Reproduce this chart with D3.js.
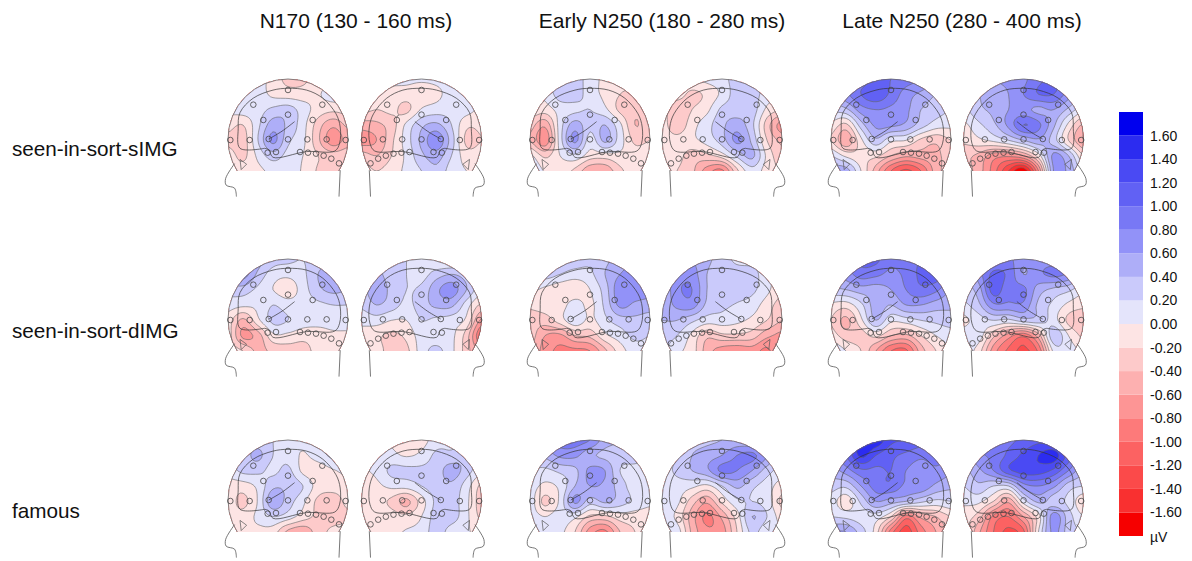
<!DOCTYPE html>
<html>
<head>
<meta charset="utf-8">
<script src="https://cdn.jsdelivr.net/npm/d3@7"></script>
<style>
  html, body { margin: 0; padding: 0; background: #fff; }
  svg { display: block; }
  text { font-family: "Liberation Sans", Arial, sans-serif; fill: #111; }
</style>
</head>
<body>
<div id="chart"></div>
<script>
// windows and conditions
const windowTitles = ["N170 (130 - 160 ms)", "Early N250 (180 - 280 ms)", "Late N250 (280 - 400 ms)"];
const conditions = ["seen-in-sort-sIMG", "seen-in-sort-dIMG", "famous"];

// colour bands, from -1.8 to 1.8 uV in 0.2 steps
const levels = d3.range(-16, 18, 2).map(d => d / 10);
const bandColors = ["#f60000", "#f93030", "#fb4a4a", "#fc6262", "#fd7a7a", "#fd9595", "#fdb0b0", "#fdcaca", "#fde4e4",
  "#e4e4fb", "#cacafb", "#aeaef8", "#9292f8", "#7878f5", "#6161f4", "#4a4af3", "#2c2cf0", "#0000ee"];
const legendTicks = d3.range(-16, 18, 2).map(d => d / 10).reverse();

// uV, 7 rows (top of scalp to cut) x 9 columns (left to right)
const n170SImgL = [
  [.1,.1,.1,-.1,-.25,-.25,-.1,-.1,-.1],
  [.1,.12,.1,-.05,-.1,-.1,-.02,.08,.1],
  [.05,.1,.12,.25,.3,.1,-.08,-.15,-.1],
  [-.12,-.2,.15,.5,.35,.08,-.3,-.55,-.35],
  [-.25,-.3,.2,.65,.25,.05,-.35,-.72,-.5],
  [-.1,-.25,.05,.3,.12,0,-.2,-.3,-.25],
  [-.1,-.12,-.05,.05,.05,-.02,-.22,-.22,-.2]];
const n170SImgR = [
  [.1,.1,.08,.05,.03,.05,.1,.1,.1],
  [.05,-.02,-.1,-.1,-.12,-.05,.08,.1,.1],
  [-.12,-.2,-.15,-.25,.02,.1,.12,.08,-.05],
  [-.5,-.45,-.3,.05,.35,.45,.2,-.15,-.15],
  [-.7,-.6,-.25,.1,.45,.75,.3,-.25,-.2],
  [-.3,-.4,-.2,.05,.35,.5,.2,-.1,-.1],
  [-.1,-.2,-.1,.05,.2,.35,.1,0,-.05]];
const earlySImgL = [
  [.2,.2,.3,.3,.1,-.05,-.1,-.1,-.1],
  [.05,.05,.3,.3,.1,-.05,-.2,-.25,-.15],
  [-.05,-.1,.08,.15,.2,.05,-.25,-.35,-.2],
  [-.3,-.55,.1,.5,.25,.4,.05,-.4,-.25],
  [-.4,-.75,.1,.65,.1,.45,.1,-.25,-.2],
  [.05,-.25,0,.15,-.1,-.1,-.05,-.1,-.05],
  [.2,-.02,-.1,-.25,-.55,-.55,-.25,-.1,-.1]];
const earlySImgR = [
  [.05,0,-.02,.05,.12,.3,.3,.2,.1],
  [-.05,-.1,-.25,-.15,.05,.3,.3,.1,.05],
  [-.1,-.35,-.2,-.05,.25,.3,.3,-.05,-.2],
  [-.1,-.35,-.08,.12,.35,.5,.25,-.3,-.7],
  [-.08,-.12,-.05,.08,.3,.65,.35,-.2,-.45],
  [-.1,-.12,-.3,-.25,-.1,.25,.45,-.05,-.35],
  [-.1,-.2,-.35,-.7,-.85,-.25,.12,-.1,-.2]];
const lateSImgL = [
  [.6,.75,.9,1,1,.9,.8,.7,.6],
  [.5,.75,1,1.15,.95,.7,.55,.4,.3],
  [.25,.35,.7,.8,.75,.65,.4,.3,.2],
  [-.05,-.25,.3,.65,.65,.55,.3,.1,.05],
  [-.2,-.55,-.05,.35,.05,0,-.25,-.35,-.2],
  [.2,-.05,-.15,-.15,-.4,-.55,-.5,-.45,-.3],
  [.5,.5,0,-.5,-1,-1.25,-1,-.5,-.3]];
const lateSImgR = [
  [.5,.55,.6,.65,.75,.95,1.05,.9,.7],
  [.2,.4,.5,.6,.8,1,1,.7,.4],
  [.15,.35,.45,.6,.65,.55,.6,.35,.05],
  [-.05,.15,.35,.65,1,.85,.45,-.05,-.45],
  [-.15,-.05,.05,.2,.4,.55,.3,-.2,-.6],
  [-.35,-.45,-.7,-.75,-.6,-.1,.65,.4,-.2],
  [-.3,-.5,-.9,-1.4,-1.75,-.8,.6,.55,.1]];
const n170DImgL = [
  [.8,.7,.5,.3,.25,.2,.3,.4,.4],
  [.6,.7,.35,.1,.05,.15,.4,.5,.45],
  [.3,.3,.15,0,-.12,.1,.35,.45,.4],
  [.1,.05,.05,.2,.1,.1,.15,.2,.2],
  [-.1,-.45,-.05,.25,.2,.1,.08,.1,.1],
  [-.1,-.65,-.5,-.05,-.05,-.12,-.1,-.05,-.05],
  [-.1,-.2,-.45,-.35,-.3,-.3,-.12,-.15,-.2]];
const n170DImgR = [
  [.4,.35,.3,.2,.1,-.02,-.05,.1,.1],
  [.4,.45,.3,.2,.12,.3,.4,.3,.1],
  [.35,.5,.35,.2,.25,.55,.7,.4,.05],
  [.25,.4,.3,.15,.3,.45,.45,.1,-.25],
  [.05,.1,0,0,.2,.15,.1,-.05,-.65],
  [-.05,-.15,-.25,-.15,.1,.1,.05,-.3,-1],
  [-.05,-.1,-.3,-.25,.1,.25,.05,-.3,-.7]];
const earlyDImgL = [
  [.4,.4,.4,.35,.25,.35,.5,.6,.7],
  [.2,.3,.2,.1,.15,.4,.6,.7,.7],
  [.05,-.05,-.15,-.15,0,.3,.75,.75,.7],
  [-.15,-.1,-.1,.1,-.05,.25,.65,.55,.5],
  [-.3,-.3,-.1,.15,-.05,.15,.3,.35,.3],
  [-.3,-.6,-.65,-.4,-.35,-.05,.1,.25,.2],
  [-.4,-.7,-.85,-.85,-.8,-.45,-.1,.1,.1]];
const earlyDImgR = [
  [.5,.55,.6,.45,.3,.15,.1,.1,.05],
  [.5,.7,.7,.4,.3,.3,.3,.05,-.05],
  [.4,.75,.8,.4,.3,.3,.25,.05,-.15],
  [.45,.65,.7,.35,.25,.18,.1,-.1,-.3],
  [.4,.4,.25,.1,.1,.05,-.05,-.2,-.4],
  [.3,.2,-.05,-.35,-.25,-.25,-.3,-.55,-.65],
  [.25,.05,-.1,-.5,-.7,-.75,-.7,-.85,-.5]];
const lateDImgL = [
  [.9,.85,1.05,1.05,.85,.9,1,.95,.85],
  [.6,.7,.9,.85,.75,.85,1.05,1.1,.85],
  [.35,.4,.5,.5,.6,.8,.95,.85,.6],
  [-.05,-.1,.15,.5,.4,.6,.6,.5,.45],
  [-.2,-.45,-.05,.4,.05,.1,.2,.25,.3],
  [-.1,-.3,-.3,-.15,-.4,-.45,-.2,0,.1],
  [.2,0,-.2,-.6,-1,-1.05,-.5,-.2,0]];
const lateDImgR = [
  [.6,.7,.8,.85,.65,.7,.7,.6,.4],
  [.35,.7,1.05,.95,.6,.75,.85,.75,.35],
  [.3,.5,1.1,.85,.85,.5,.35,.25,.05],
  [.15,.35,.75,.75,.75,.35,.15,-.05,-.15],
  [-.05,.1,.2,.15,.3,.3,.1,-.25,-.35],
  [.1,.1,-.35,-.7,-.95,-.5,.35,0,-.25],
  [.1,-.1,-.7,-1.05,-1.25,-.95,.05,.1,-.05]];
const n170FamousL = [
  [.3,.3,.3,.2,.1,.05,.2,.2,.2],
  [.2,.3,.45,.2,.12,-.02,.1,.25,.25],
  [.1,.25,.25,.15,.25,-.05,-.12,-.02,.05],
  [-.1,-.1,.05,.35,.35,.2,-.08,-.08,-.05],
  [-.1,-.25,.02,.55,.3,.05,-.25,-.35,-.12],
  [-.1,-.12,.05,.2,.1,-.1,-.25,-.3,-.25],
  [0,-.05,-.05,-.1,-.45,-.55,-.3,-.15,-.1]];
const n170FamousR = [
  [.05,.1,-.02,-.08,-.08,.1,.15,.1,.05],
  [.05,.08,.05,-.02,.05,.25,.25,.35,.1],
  [-.02,.05,.25,.25,.25,.3,.5,.3,.05],
  [-.15,-.05,.05,.08,.2,.3,.35,.1,-.25],
  [-.2,-.12,-.25,-.45,-.1,.25,.3,.05,-.3],
  [-.15,-.05,-.1,-.15,0,.3,.3,.05,-.25],
  [-.05,-.05,-.05,.02,.08,.3,.1,.02,-.05]];
const earlyFamousL = [
  [.7,.7,.9,.9,.8,.5,.4,.3,.3],
  [.3,.45,.65,.65,.45,.35,.3,.3,.2],
  [.2,.15,.25,.35,.65,.6,.2,.12,.1],
  [.1,-.05,.05,.4,.6,.55,.3,.1,.1],
  [.1,-.25,.05,.65,.3,.45,.3,.15,.05],
  [.1,0,.1,.05,-.25,-.25,-.1,-.1,-.1],
  [.3,.1,.05,-.2,-.7,-.85,-.4,-.2,-.1]];
const earlyFamousR = [
  [.2,.3,.3,.35,.4,.45,.4,.3,.2],
  [.1,.2,.4,.5,.6,.8,.85,.6,.2],
  [.1,.25,.4,.55,.85,.8,.6,.3,.1],
  [.05,.1,.05,-.05,.2,.45,.25,.1,-.1],
  [.1,.05,-.3,-.55,-.15,.15,.2,.1,-.25],
  [.1,-.05,-.5,-.85,-.55,-.1,.4,.2,-.1],
  [0,.1,-.45,-.75,-.7,-.2,.25,.05,.05]];
const lateFamousL = [
  [1,1.1,1.5,1.55,1.25,1.2,1.1,1,.9],
  [.8,1,1.45,1.2,1.05,.95,.85,.9,.8],
  [.5,.7,.95,.95,1,.8,.7,.75,.65],
  [.3,.25,.6,.9,.95,.75,.75,.55,.45],
  [.1,-.12,.25,.6,.5,.4,.25,.15,.2],
  [.2,.15,.1,.1,-.2,-.9,-.55,-.4,-.2],
  [.6,.6,.3,-.1,-.9,-1.3,-.9,-.6,-.35]];
const lateFamousR = [
  [.7,.85,.9,.95,1.05,1.15,1.1,.9,.8],
  [.5,.75,.85,1.05,1.25,1.4,1.5,1.1,.65],
  [.35,.55,.8,1.15,1.3,1.3,1.15,.8,.45],
  [.2,.35,.2,.2,.7,.8,.65,.3,.2],
  [.05,.05,-.2,-.55,.1,.45,.3,.15,-.15],
  [-.1,-.3,-.85,-1,-.6,-.1,.7,.3,0],
  [-.1,-.55,-1,-1.25,-1.05,0,.65,.3,.2]];

const mapGrid = [
  [[n170SImgL, n170SImgR], [earlySImgL, earlySImgR], [lateSImgL, lateSImgR]],
  [[n170DImgL, n170DImgR], [earlyDImgL, earlyDImgR], [lateDImgL, lateDImgR]],
  [[n170FamousL, n170FamousR], [earlyFamousL, earlyFamousR], [lateFamousL, lateFamousR]]
];

// electrodes in head units (1 = scalp radius), left-side view; right view is mirrored
const electrodeX = [0,-.578,.572,0,-.411,.411,-.961,-.639,-.322,0,.322,.644,.961,-.339,-.2,.2,.333,.467,.594,.722,.85];
const electrodeY = [-.817,-.572,-.572,-.406,-.317,-.317,.017,.017,0,.006,.006,.006,.017,.228,.217,.217,.228,.244,.278,.328,.406];

// head drawing, same units
const brainOutline = [[-.39,.155],[-.8,.155],[-.83,-.17],[-.8,-.44],[-.58,-.68],[-.25,-.815],[0,-.845],[.31,-.815],[.58,-.68],[.8,-.42],[.87,-.2],[.86,.07],[.78,.2],[.31,.21],[-.25,.305],[-.32,.18],[-.39,.155]];
const sulcus = [[-.32,0],[-.1,-.13],[.11,-.29]];
const earMark = [[-.8,.34],[-.69,.42],[-.78,.51],[-.8,.34]];
const neckFront = [[-.89,.41],[-1.04,.66],[-1.03,.77],[-.89,.82],[-.86,.96]];
const neckBack = [[.87,.52],[.85,.96]];

const width = 1192, height = 561;
const columnCenters = [[288, 421.5], [590, 722], [891, 1023.5]];
const rowCenters = [139, 319, 500];
const titleX = [356, 662, 962];
const labelY = [156, 338, 518];
const radius = 60, cutY = 0.533, upsample = 6;

const svg = d3.select("#chart").append("svg")
  .attr("width", width).attr("height", height)
  .attr("viewBox", `0 0 ${width} ${height}`);

const bandOf = d3.scaleThreshold().domain(levels).range(bandColors);

// Catmull-Rom resampling of a coarse value grid so the contours come out round
function resample(grid, k) {
  const ny = grid.length, nx = grid[0].length;
  const at = (i, j) => grid[Math.max(0, Math.min(ny - 1, j))][Math.max(0, Math.min(nx - 1, i))];
  const cr = (a, b, c, d, t) => 0.5 * (2 * b + (c - a) * t + (2 * a - 5 * b + 4 * c - d) * t * t + (3 * b - a - 3 * c + d) * t * t * t);
  const w = (nx - 1) * k + 1, h = (ny - 1) * k + 1, out = new Array(w * h);
  for (let y = 0; y < h; y++) {
    const j = Math.floor(y / k), v = y / k - j;
    for (let x = 0; x < w; x++) {
      const i = Math.floor(x / k), u = x / k - i;
      const col = [-1, 0, 1, 2].map(m => cr(at(i - 1, j + m), at(i, j + m), at(i + 1, j + m), at(i + 2, j + m), u));
      out[y * w + x] = cr(col[0], col[1], col[2], col[3], v);
    }
  }
  return { values: out, w, h };
}

function drawHead(grid, cx, cy, mirrored, id) {
  const x = d3.scaleLinear().domain([-1, 1]).range(mirrored ? [cx + radius, cx - radius] : [cx - radius, cx + radius]);
  const y = d3.scaleLinear().domain([-1, 1]).range([cy - radius, cy + radius]);
  const curve = d3.line().x(d => x(d[0])).y(d => y(d[1])).curve(d3.curveCatmullRom.alpha(0.5));
  const straight = d3.line().x(d => x(d[0])).y(d => y(d[1]));

  const g = svg.append("g");
  const clip = g.append("clipPath").attr("id", id);
  clip.append("rect").attr("x", cx - radius - 2).attr("y", cy - radius - 2)
    .attr("width", radius * 2 + 4).attr("height", radius * (1 + cutY) + 2);
  const clipC = g.append("clipPath").attr("id", id + "c");
  clipC.append("circle").attr("cx", cx).attr("cy", cy).attr("r", radius);

  const { values, w, h } = resample(grid, upsample);
  const sx = d3.scaleLinear().domain([0.5, w - 0.5]).range([cx - radius, cx + radius]);
  const sy = d3.scaleLinear().domain([0.5, h - 0.5]).range([cy - radius, cy + radius * cutY]);
  const path = d3.geoPath(d3.geoTransform({ point(px, py) { this.stream.point(sx(px), sy(py)); } }));
  const contours = d3.contours().size([w, h]).thresholds(levels)(values);

  const inner = g.append("g").attr("clip-path", `url(#${id})`)
    .append("g").attr("clip-path", `url(#${id}c)`);
  inner.append("rect").attr("x", cx - radius).attr("y", cy - radius)
    .attr("width", radius * 2).attr("height", radius * 2).attr("fill", bandColors[0]);
  inner.selectAll("path.band").data(contours).join("path")
    .attr("class", "band").attr("d", path)
    .attr("fill", d => bandOf(d.value + 0.01));
  inner.selectAll("path.iso").data(contours).join("path")
    .attr("class", "iso").attr("d", path)
    .attr("fill", "none").attr("stroke", "#666").attr("stroke-width", 0.6);

  // scalp outline and neck
  g.append("g").attr("clip-path", `url(#${id})`)
    .append("circle").attr("cx", cx).attr("cy", cy).attr("r", radius)
    .attr("fill", "none").attr("stroke", "#666").attr("stroke-width", 0.8);
  const outline = g.append("g").attr("fill", "none");
  outline.append("path").attr("d", curve(brainOutline)).attr("stroke", "#333").attr("stroke-width", 0.7);
  outline.append("path").attr("d", curve(sulcus)).attr("stroke", "#333").attr("stroke-width", 0.7);
  outline.append("path").attr("d", straight(earMark)).attr("stroke", "#555").attr("stroke-width", 0.7);
  outline.append("path").attr("d", curve(neckFront)).attr("stroke", "#555").attr("stroke-width", 0.8);
  outline.append("path").attr("d", straight(neckBack)).attr("stroke", "#555").attr("stroke-width", 0.8);

  g.append("g").selectAll("circle").data(electrodeX).join("circle")
    .attr("cx", d => x(d))
    .attr("cy", (d, i) => y(electrodeY[i]))
    .attr("r", 2.8)
    .attr("fill", "none").attr("stroke", "#444").attr("stroke-width", 0.8);
}

mapGrid.forEach((row, r) => row.forEach((pair, c) => {
  drawHead(pair[0], columnCenters[c][0], rowCenters[r], false, `m${r}${c}l`);
  drawHead(pair[1], columnCenters[c][1], rowCenters[r], true, `m${r}${c}r`);
}));

svg.selectAll("text.title").data(windowTitles).join("text")
  .attr("class", "title").attr("x", (d, i) => titleX[i]).attr("y", 28)
  .attr("text-anchor", "middle").attr("font-size", 21).text(d => d);

svg.selectAll("text.cond").data(conditions).join("text")
  .attr("class", "cond").attr("x", 12).attr("y", (d, i) => labelY[i])
  .attr("font-size", 20.7).text(d => d);

// colour bar
const legendY = d3.scaleLinear().domain([1.8, -1.8]).range([112, 536]);
const bandEdges = [-1.8, ...levels];
svg.append("g").selectAll("rect").data(bandColors).join("rect")
  .attr("x", 1119).attr("width", 24)
  .attr("y", (d, i) => legendY(bandEdges[i] + 0.2))
  .attr("height", (d, i) => legendY(bandEdges[i]) - legendY(bandEdges[i] + 0.2))
  .attr("fill", d => d);

const legendAxis = svg.append("g")
  .attr("transform", "translate(1150,0)")
  .call(d3.axisRight(legendY).tickValues(legendTicks).tickSize(0).tickPadding(0)
    .tickFormat(d => d3.format(".2f")(d).replace("\u2212", "-")));
legendAxis.select(".domain").remove();
legendAxis.selectAll("text").attr("font-size", 14).attr("font-family", null).style("fill", "#111");

svg.append("text").attr("x", 1150).attr("y", 542).attr("font-size", 14).text("\u00b5V");
</script>
</body>
</html>
